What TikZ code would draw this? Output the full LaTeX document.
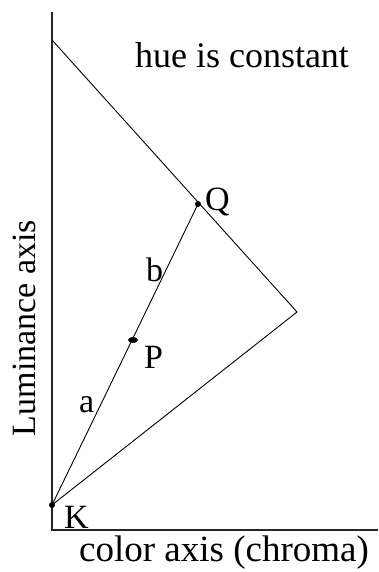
\documentclass[tikz,border=0pt]{standalone}
\usepackage{fontspec}
\usetikzlibrary{shapes.geometric}
\setmainfont{Liberation Serif}
\begin{document}
\begin{tikzpicture}[x=1pt,y=-1pt,
  thinline/.style={line width=0.9pt},
  axisline/.style={line width=1.4pt, black!85},
  dotmark/.style={circle, fill=black, inner sep=0pt, minimum size=6pt},
  lbl/.style={font=\fontsize{34}{34}\selectfont, inner sep=0pt, anchor=base west}]
\useasboundingbox (0,0) rectangle (378,572);
% axes
\coordinate (ytop) at (52,12);
\coordinate (origin) at (52,530);
\coordinate (xend) at (378,530);
\draw[axisline] (ytop) -- (origin) -- (xend);
% points
\coordinate (T) at (52,40);
\coordinate (C) at (297,312);
\coordinate (K) at (52,505);
\coordinate (Q) at (198,204);
\coordinate (P) at (133,340);
\draw[thinline] (T) -- (C) -- (K) -- (Q);
\node[dotmark] (Kd) at (K) {};
\node[dotmark] (Qd) at (Q) {};
\node[ellipse, fill=black, inner sep=0pt, minimum width=10pt, minimum height=6pt] (Pd) at (P) {};
% labels
\node[lbl] (Kl) at (64,528) {K};
\node[lbl] (Ql) at (205,210) {Q};
\node[lbl] (Pl) at (144,368) {P};
\node[lbl] (bl) at (146,281) {b};
\node[lbl] (al) at (79,412) {a};
\node[font=\fontsize{36}{36}\selectfont, inner sep=0pt, anchor=base] (hue) at (242,68) {hue is constant};
\node[font=\fontsize{37}{37}\selectfont, inner sep=0pt, anchor=base] (xlab) at (224,561) {color axis (chroma)};
\node[font=\fontsize{34}{34}\selectfont, inner sep=0pt, anchor=base, rotate=90] (ylab) at (35,328) {Luminance axis};
\end{tikzpicture}
\end{document}
